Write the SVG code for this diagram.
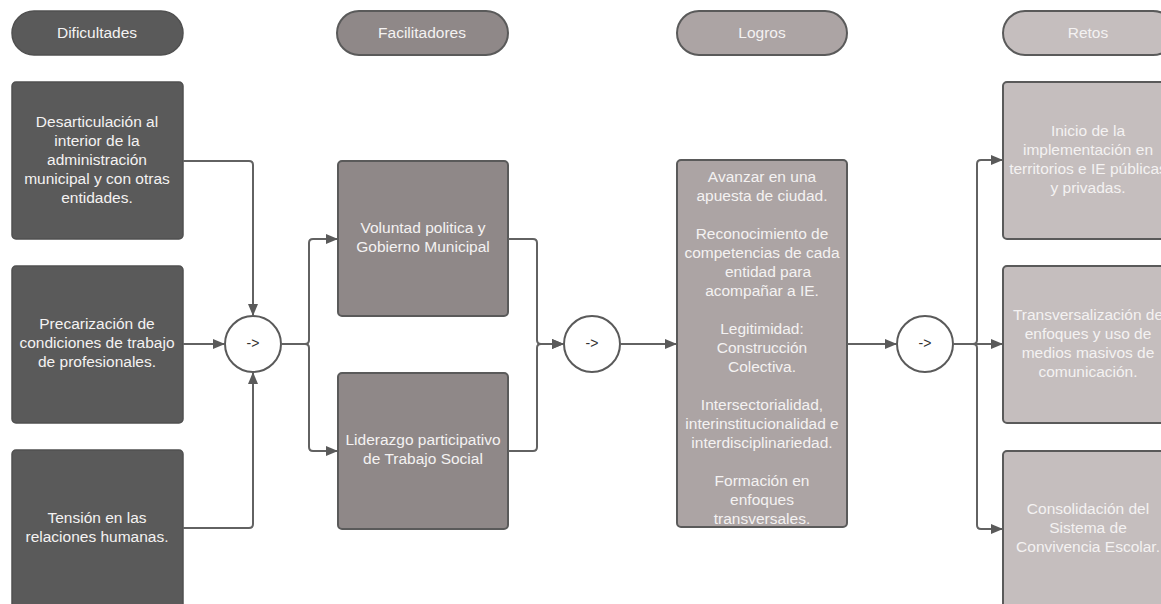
<svg xmlns="http://www.w3.org/2000/svg" width="1161" height="604" viewBox="0 0 1161 604">
<style>
text{font-family:"Liberation Sans",Arial,sans-serif;font-size:15.5px;text-anchor:middle;fill:#f4f2f2}
.c1{fill:#5a5a5a;stroke:#505050;stroke-width:1.5}
.c2{fill:#8f8888;stroke:#5a5a5a;stroke-width:2}
.c3{fill:#aca4a4;stroke:#5a5a5a;stroke-width:2}
.c4{fill:#c5bebe;stroke:#5a5a5a;stroke-width:2}
.op{fill:#fff;stroke:#5a5a5a;stroke-width:2}
.op text,text.op{fill:#333;font-size:14px;stroke:none}
.con path{fill:none;stroke:#626262;stroke-width:2}
</style>
<defs>
<marker id="ah" markerUnits="userSpaceOnUse" markerWidth="12" markerHeight="10" refX="11" refY="5" orient="auto">
<path d="M0,0 L12,5 L0,10 z" fill="#5a5a5a"/>
</marker>
</defs>
<g id="h-dificultades"><rect class="c1" x="12" y="11" width="171" height="44" rx="22"/><text x="97" y="38">Dificultades</text></g>
<g id="h-facilitadores"><rect class="c2" x="337" y="11" width="171" height="44" rx="22"/><text x="422" y="38">Facilitadores</text></g>
<g id="h-logros"><rect class="c3" x="677" y="11" width="170" height="44" rx="22"/><text x="762" y="38">Logros</text></g>
<g id="h-retos"><rect class="c4" x="1003" y="11" width="172" height="44" rx="22"/><text x="1088" y="38">Retos</text></g>

<g id="d1"><rect class="c1" x="12" y="82" width="171" height="157" rx="4"/>
<text x="97" y="127">Desarticulación al</text><text x="97" y="146">interior de la</text><text x="97" y="165">administración</text><text x="97" y="184">municipal y con otras</text><text x="97" y="203">entidades.</text></g>
<g id="d2"><rect class="c1" x="12" y="266" width="171" height="157" rx="4"/>
<text x="97" y="329">Precarización de</text><text x="97" y="348">condiciones de trabajo</text><text x="97" y="367">de profesionales.</text></g>
<g id="d3"><rect class="c1" x="12" y="450" width="171" height="170" rx="4"/>
<text x="97" y="523">Tensión en las</text><text x="97" y="542">relaciones humanas.</text></g>

<g id="op1"><circle class="op" cx="253" cy="344" r="28"/><text class="op" x="253" y="348">-&gt;</text></g>

<g id="f1"><rect class="c2" x="338" y="161" width="170" height="155" rx="4"/>
<text x="423" y="233">Voluntad politica y</text><text x="423" y="252">Gobierno Municipal</text></g>
<g id="f2"><rect class="c2" x="338" y="373" width="170" height="156" rx="4"/>
<text x="423" y="445">Liderazgo participativo</text><text x="423" y="464">de Trabajo Social</text></g>

<g id="op2"><circle class="op" cx="592" cy="344" r="28"/><text class="op" x="592" y="348">-&gt;</text></g>

<g id="l1"><rect class="c3" x="677" y="160" width="170" height="367" rx="4"/>
<text x="762" y="182">Avanzar en una</text><text x="762" y="201">apuesta de ciudad.</text>
<text x="762" y="239">Reconocimiento de</text><text x="762" y="258">competencias de cada</text><text x="768" y="277">entidad para</text><text x="762" y="296">acompañar a IE.</text>
<text x="762" y="334">Legitimidad:</text><text x="762" y="353">Construcción</text><text x="762" y="372">Colectiva.</text>
<text x="762" y="410">Intersectorialidad,</text><text x="762" y="429">interinstitucionalidad e</text><text x="762" y="448">interdisciplinariedad.</text>
<text x="762" y="486">Formación en</text><text x="762" y="505">enfoques</text><text x="762" y="524">transversales.</text></g>

<g id="op3"><circle class="op" cx="925" cy="344" r="28"/><text class="op" x="925" y="348">-&gt;</text></g>

<g id="r1"><rect class="c4" x="1003" y="82" width="172" height="157" rx="4"/>
<text x="1088" y="136">Inicio de la</text><text x="1088" y="155">implementación en</text><text x="1088" y="174">territorios e IE públicas</text><text x="1088" y="193">y privadas.</text></g>
<g id="r2"><rect class="c4" x="1003" y="266" width="172" height="157" rx="4"/>
<text x="1088" y="320">Transversalización de</text><text x="1088" y="339">enfoques y uso de</text><text x="1088" y="358">medios masivos de</text><text x="1088" y="377">comunicación.</text></g>
<g id="r3"><rect class="c4" x="1003" y="451" width="172" height="170" rx="4"/>
<text x="1088" y="514">Consolidación del</text><text x="1088" y="533">Sistema de</text><text x="1088" y="552">Convivencia Escolar.</text></g>

<g id="connectors" class="con">
<path d="M183 161 H249 Q253 161 253 165 V315" marker-end="url(#ah)"/>
<path d="M183 344 H224" marker-end="url(#ah)"/>
<path d="M183 528 H249 Q253 528 253 524 V373" marker-end="url(#ah)"/>
<path d="M281 344 H305 Q309 344 309 340 V243 Q309 239 313 239 H337" marker-end="url(#ah)"/>
<path d="M281 344 H305 Q309 344 309 348 V447 Q309 451 313 451 H337" marker-end="url(#ah)"/>
<path d="M508 239 H533 Q537 239 537 243 V340 Q537 344 541 344 H563" marker-end="url(#ah)"/>
<path d="M508 451 H533 Q537 451 537 447 V348 Q537 344 541 344 H563" marker-end="url(#ah)"/>
<path d="M620 344 H676" marker-end="url(#ah)"/>
<path d="M847 344 H896" marker-end="url(#ah)"/>
<path d="M953 344 H973 Q977 344 977 340 V164 Q977 160 981 160 H1002" marker-end="url(#ah)"/>
<path d="M953 344 H1002" marker-end="url(#ah)"/>
<path d="M953 344 H973 Q977 344 977 348 V525 Q977 529 981 529 H1002" marker-end="url(#ah)"/>
</g>
</svg>
